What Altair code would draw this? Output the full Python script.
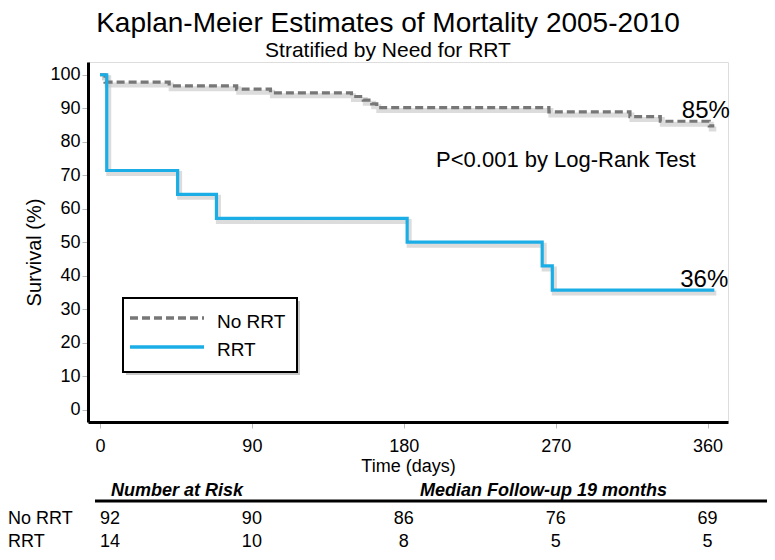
import altair as alt
import pandas as pd

FONT = "Liberation Sans"

title_text = "Kaplan-Meier Estimates of Mortality 2005-2010"
subtitle_text = "Stratified by Need for RRT"

groups = ["No RRT", "RRT"]
group_colors = ["#777777", "#1BAEE6"]
group_dashes = [[8, 4], [1, 0]]

no_rrt_days = [0, 3, 41, 81, 101, 149, 156, 161, 164, 266, 314, 332, 361, 364]
no_rrt_surv = [100, 97.8, 96.7, 95.7, 94.6, 93.5, 92.4, 91.3, 90.2, 88.9, 87.5, 86.1, 84.7, 84.7]

rrt_days = [0, 4, 46, 69, 182, 262, 268, 364]
rrt_surv = [100, 71.4, 64.3, 57.1, 50.0, 42.9, 35.7, 35.7]

x_ticks = [0, 90, 180, 270, 360]
y_ticks = [0, 10, 20, 30, 40, 50, 60, 70, 80, 90, 100]

risk_times = [0, 90, 180, 270, 360]
risk_no_rrt = [92, 90, 86, 76, 69]
risk_rrt = [14, 10, 8, 5, 5]

end_labels = ["85%", "36%"]
end_label_days = [359, 358]
end_label_surv = [87.2, 36.7]

p_text = ["P<0.001 by Log-Rank Test"]
p_day = [276]
p_surv = [72.5]

table_headers = ["Number at Risk", "Median Follow-up 19 months"]

# ---- tables built from the lists ----
curve = pd.concat([
    pd.DataFrame({"day": no_rrt_days, "surv": no_rrt_surv, "group": groups[0]}),
    pd.DataFrame({"day": rrt_days, "surv": rrt_surv, "group": groups[1]}),
], ignore_index=True)

risk = pd.DataFrame({"day": risk_times, "no": risk_no_rrt, "rrt": risk_rrt})
ends = pd.DataFrame({"day": end_label_days, "surv": end_label_surv, "label": end_labels})
pval = pd.DataFrame({"day": p_day, "surv": p_surv, "label": p_text})

x_scale = alt.Scale(domain=[-7.1, 372.1], nice=False, zero=False)
y_scale = alt.Scale(domain=[-3.7, 103.8], nice=False, zero=False)
color_scale = alt.Scale(domain=groups, range=group_colors)
dash_scale = alt.Scale(domain=groups, range=group_dashes)

x_axis = alt.Axis(values=x_ticks, title="Time (days)", format="d", grid=False,
                  domainColor="black", domainWidth=3, tickColor="#bbbbbb", tickSize=6,
                  tickWidth=1, labelFontSize=18, labelFont=FONT, labelColor="black",
                  labelPadding=9, labelOverlap=False, labelFlush=False,
                  titleFontSize=18, titleFont=FONT, titleFontWeight="normal",
                  titleColor="black", titlePadding=2)
y_axis = alt.Axis(values=y_ticks, title="Survival (%)", format="d", grid=False,
                  domainColor="black", domainWidth=3, tickColor="#bbbbbb", tickSize=6,
                  tickWidth=1, labelFontSize=18, labelFont=FONT, labelColor="black",
                  labelPadding=2, labelOverlap=False, labelFlush=False,
                  titleFontSize=20, titleFont=FONT, titleFontWeight="normal",
                  titleColor="black", titleX=-44, titleY=190, titleBaseline="bottom",
                  titleAlign="center", titleAngle=270)

X = alt.X("day:Q", scale=x_scale, axis=x_axis)
Y = alt.Y("surv:Q", scale=y_scale, axis=y_axis)

base = alt.Chart(curve)

shadow = base.mark_line(interpolate="step-after", color="#c4c4c4", strokeWidth=5,
                        opacity=0.6, xOffset=2, yOffset=3).encode(x=X, y=Y, detail="group:N")

lines = base.mark_line(interpolate="step-after", strokeWidth=3.2).encode(
    x=X, y=Y,
    color=alt.Color("group:N", scale=color_scale, legend=None),
    strokeDash=alt.StrokeDash("group:N", scale=dash_scale, legend=None),
)

# ---- hand-built legend box (top-left of lower plot) ----
one = pd.DataFrame({"k": [0]})
legend_shadow = alt.Chart(one).mark_rect(color="#9a9a9a", opacity=0.55).encode(
    x=alt.value(38), x2=alt.value(212), y=alt.value(239), y2=alt.value(313))
legend_box = alt.Chart(one).mark_rect(fill="white", stroke="black", strokeWidth=2).encode(
    x=alt.value(35), x2=alt.value(209), y=alt.value(236), y2=alt.value(310))
legend_df = pd.DataFrame({"g": groups, "ly": [256, 285], "ty": [266, 294]})
legend_sym = alt.Chart(legend_df).mark_rule(strokeWidth=3.5).encode(
    x=alt.value(42), x2=alt.value(116), y=alt.Y("ly:Q", scale=None),
    color=alt.Color("g:N", scale=color_scale, legend=None),
    strokeDash=alt.StrokeDash("g:N", scale=dash_scale, legend=None))
legend_txt = alt.Chart(legend_df).mark_text(fontSize=19, font=FONT, color="black", align="left",
                                            baseline="alphabetic").encode(
    x=alt.value(129), y=alt.Y("ty:Q", scale=None), text="g:N")

end_text = alt.Chart(ends).mark_text(fontSize=24, font=FONT, color="black", align="center",
                                     baseline="alphabetic").encode(x=X, y=Y, text="label:N")
p_label = alt.Chart(pval).mark_text(fontSize=22, font=FONT, color="black", align="center",
                                    baseline="alphabetic").encode(x=X, y=Y, text="label:N")

ROW1, ROW2 = 462, 485
risk_first = risk[risk["day"] == risk_times[0]]
risk_rest = risk[risk["day"] != risk_times[0]]

def risk_layer(df, field, yy, align):
    return alt.Chart(df).mark_text(fontSize=18, font=FONT, color="black", align=align,
                                   baseline="alphabetic").encode(x=X, y=alt.value(yy), text=f"{field}:Q")

risk_layers = [
    risk_layer(risk_first, "no", ROW1, "left"), risk_layer(risk_rest, "no", ROW1, "center"),
    risk_layer(risk_first, "rrt", ROW2, "left"), risk_layer(risk_rest, "rrt", ROW2, "center"),
]

row_labels = alt.Chart(pd.DataFrame({"g": groups, "yy": [ROW1, ROW2]})).mark_text(
    fontSize=18, font=FONT, color="black", align="left", baseline="alphabetic").encode(
    x=alt.value(-80), y=alt.Y("yy:Q", scale=None), text="g:N")

headers = alt.Chart(pd.DataFrame({"h": table_headers, "xx": [23, 332]})).mark_text(
    fontSize=18, font=FONT, fontStyle="italic", fontWeight="bold", color="black",
    align="left", baseline="alphabetic").encode(
    x=alt.X("xx:Q", scale=None), y=alt.value(434), text="h:N")

header_rule = alt.Chart(one).mark_rule(color="black", strokeWidth=3).encode(
    x=alt.value(7), x2=alt.value(679), y=alt.value(439))

chart = alt.layer(
    shadow, lines, legend_shadow, legend_box, legend_sym, legend_txt,
    end_text, p_label, *risk_layers, row_labels, headers, header_rule
).properties(
    width=640, height=360,
    autosize=alt.AutoSizeParams(type="none"),
    padding={"left": 80, "top": 54, "right": 39, "bottom": 130},
    title=alt.TitleParams(text=title_text, subtitle=subtitle_text, fontSize=28, subtitleFontSize=21,
                          font=FONT, subtitleFont=FONT, fontWeight="normal", color="black",
                          subtitleColor="black", anchor="middle", dx=-20, offset=1,
                          subtitlePadding=2),
).configure_view(stroke=None).configure(background="white")

chart.save("out.html", embed_options={"renderer": "svg", "actions": False})
